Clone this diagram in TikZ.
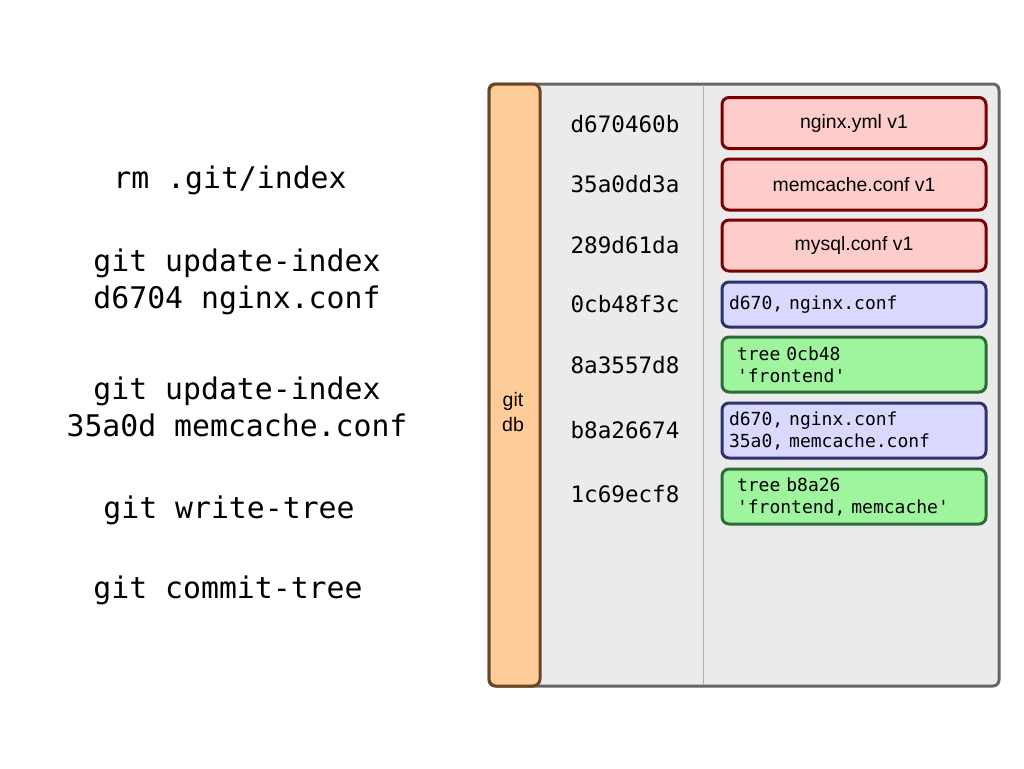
\documentclass[tikz,border=0pt]{standalone}
\usepackage{fontspec}
\setmainfont{Liberation Sans}
\newfontfamily\mono{DejaVu Sans Mono}
\begin{document}
\frenchspacing
\begin{tikzpicture}[x=1pt,y=-1pt,
  cmd/.style={font=\mono\fontsize{29.8}{37}\selectfont, align=center, inner sep=0pt},
  hash/.style={font=\mono\fontsize{22.6}{26}\selectfont, inner sep=0pt},
  obj/.style={rounded corners=7pt, line width=3pt, minimum width=264pt, inner sep=0pt},
  blob/.style={obj, draw=blobdraw, fill=blobfill, font=\fontsize{19.4}{22}\selectfont, align=center},
  treeobj/.style={obj, draw=treedraw, fill=treefill, font=\mono\fontsize{18}{22}\selectfont, align=left, text width=250pt},
  commitobj/.style={obj, draw=commitdraw, fill=commitfill, font=\mono\fontsize{18}{22}\selectfont, align=left, text width=234pt}
]
\definecolor{blobdraw}{HTML}{780000}
\definecolor{blobfill}{HTML}{FFCCCC}
\definecolor{treedraw}{HTML}{2C3370}
\definecolor{treefill}{HTML}{D9D9FF}
\definecolor{commitdraw}{HTML}{2D6B3A}
\definecolor{commitfill}{HTML}{9EF59E}
\definecolor{dbfill}{HTML}{EBEBEB}
\definecolor{dbdraw}{HTML}{666666}
\definecolor{barfill}{HTML}{FFCC99}
\definecolor{bardraw}{HTML}{6B4520}
\definecolor{divline}{HTML}{B0B0B0}
\useasboundingbox (0,0) rectangle (1024,768);

% database panel
\draw[draw=dbdraw, fill=dbfill, line width=3pt, rounded corners=6pt] (489,84) rectangle (999,686);
\draw[divline, line width=1pt] (703,85) -- (703,685);
\draw[draw=bardraw, fill=barfill, line width=3pt, rounded corners=7pt] (489,84) rectangle (540,686);
\node[font=\fontsize{19.5}{25}\selectfont, align=center, inner sep=0pt] (gitdb) at (513,412) {git\\db};

% commands
\node[cmd] (c1) at (230,180) {rm .git/index};
\node[cmd] (c2) at (237,282) {git update-index\\d6704 nginx.conf};
\node[cmd] (c3) at (237,407) {git update-index\\35a0d memcache.conf};
\node[cmd] (c4) at (229,510) {git write-tree};
\node[cmd] (c5) at (228,590) {git commit-tree};

% hashes
\node[hash] (h1) at (625,124) {d670460b};
\node[hash] (h2) at (625,184) {35a0dd3a};
\node[hash] (h3) at (625,245) {289d61da};
\node[hash] (h4) at (625,304) {0cb48f3c};
\node[hash] (h5) at (625,365) {8a3557d8};
\node[hash] (h6) at (625,430) {b8a26674};
\node[hash] (h7) at (625,494) {1c69ecf8};

% objects
\node[blob, minimum height=51pt] (o1) at (854,123) {nginx.yml v1};
\node[blob, minimum height=51pt] (o2) at (854,184.5) {memcache.conf v1};
\node[blob, minimum height=51pt] (o3) at (854,245.5) {mysql.conf v1};
\node[treeobj, minimum height=45pt] (o4) at (854,304.5) {d670, nginx.conf};
\node[commitobj, minimum height=55pt] (o5) at (854,364.5) {tree 0cb48\\'frontend'};
\node[treeobj, minimum height=55pt] (o6) at (854,430.5) {d670, nginx.conf\\35a0, memcache.conf};
\node[commitobj, minimum height=55pt] (o7) at (854,496.5) {tree b8a26\\'frontend, memcache'};
\end{tikzpicture}
\end{document}
